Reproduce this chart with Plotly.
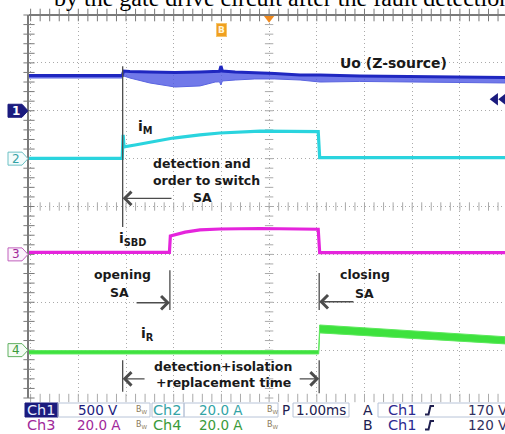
import numpy as np
import plotly.graph_objects as go

# ---- acquisition settings -------------------------------------------------
TIME_DIV = 1.0                                     # ms/div
CH_SCALE = {1: 500.0, 2: 20.0, 3: 20.0, 4: 20.0}   # V/div (Ch1), A/div (Ch2-4)
CH_GROUND = {1: 6.0, 2: 5.0, 3: 3.0, 4: 1.0}       # ground level, div from bottom
TRIG_A_LEVEL = 170.0                               # V on Ch1
TRIG_B_LEVEL = 120.0                               # V on Ch1

# ---- events (ms from the left edge of the screen) -------------------------
T_DETECT = 1.93     # fault detected, order to switch SA
T_OPEN = 2.92       # SA opening
T_CLOSE = 6.05      # SA closing

# ---- Ch1: Uo (Z-source) [V], upper / lower envelope of the noisy trace ----
uo_t = [-0.05, 1.92, 1.95, 2.08, 2.50, 3.03, 3.55, 3.87, 3.96, 3.99, 4.02,
        4.29, 4.70, 5.12, 5.65, 6.07, 6.90, 7.74, 8.79, 9.95]
uo_hi = [368, 368, 415, 410, 405, 400, 405, 415, 412, 467, 415,
         405, 400, 389, 373, 373, 363, 358, 353, 347]
uo_lo = [342, 342, 363, 342, 290, 248, 259, 300, 302, 269, 311,
         321, 332, 332, 321, 300, 306, 300, 295, 290]

# ---- Ch2: iM [A] ------------------------------------------------------------
im_t = [-0.05, 1.92, 1.94, 1.96, 2.19, 2.50, 2.99, 3.55, 3.97, 4.81, 6.03, 6.06, 9.95]
im_a = [0.1, 0.1, 9.9, 4.9, 5.7, 6.7, 8.6, 9.9, 10.7, 11.5, 11.3, 0.4, 0.4]

# ---- Ch3: iSBD [A] ----------------------------------------------------------
isbd_t = [-0.05, 2.91, 2.93, 3.24, 3.55, 3.97, 4.81, 6.03, 6.06, 9.95]
isbd_a = [0.8, 0.8, 7.7, 9.3, 10.2, 10.6, 10.8, 10.5, 0.7, 0.7]

# ---- Ch4: iR [A], upper / lower envelope ------------------------------------
ir_t = [-0.05, 6.04, 6.06, 7.74, 9.95]
ir_hi = [-0.2, -0.2, 10.5, 8.4, 5.6]
ir_lo = [-1.6, -1.6, 7.2, 5.1, 2.6]

# ---- colours / fonts ----------------------------------------------------------
NAVY = "#1b1b7e"
C1_FILL = "rgba(78,88,228,0.8)"
C1_LINE = "#1f27c0"
C2 = "#2ad4de"
C3 = "#e524dc"
C4 = "#3ee23e"
C2_TXT = "#33a3a6"
C3_TXT = "#a0289a"
C4_TXT = "#3a9a3a"
GRID = "#aaaaaa"
BORDER = "#7a7a7a"
ARROW = "#4c4c4c"
TEXT = "#1a1a1a"
SANS = "DejaVu Sans"

# figure geometry (plot area 29..505 x 15..398 px)
W, H = 505, 434
L, T, R, B = 29, 15, 0, 36
PW, PH = W - L - R, H - T - B
X_RANGE = [-0.034, 9.946]   # ms
Y_RANGE = [0, 8]            # div


def to_div(ch, vals):
    return [CH_GROUND[ch] + v / CH_SCALE[ch] for v in vals]


def px_x(px):
    return (px - L) / PW


def px_y(py):
    return (H - B - py) / PH


def band(t, hi, lo, fill, name, edge=None):
    return go.Scatter(x=list(t) + list(t)[::-1], y=list(hi) + list(lo)[::-1],
                      fill="toself", fillcolor=fill, mode="lines",
                      line=dict(color=edge or fill, width=1), name=name, hoverinfo="skip")


fig = go.Figure()

# graticule minor ticks on the centre cross and the borders
sub_x = np.arange(0, 10, 0.2)
sub_y = np.arange(0, 8.01, 0.2)
tick_style = dict(mode="markers", hoverinfo="skip", cliponaxis=False)
fig.add_trace(go.Scatter(x=sub_x, y=[4] * len(sub_x), marker=dict(symbol="line-ns", size=6,
              line=dict(color=GRID, width=1)), **tick_style))
fig.add_trace(go.Scatter(x=[5] * len(sub_y), y=sub_y, marker=dict(symbol="line-ew", size=6,
              line=dict(color=GRID, width=1)), **tick_style))
fig.add_trace(go.Scatter(x=sub_x, y=[8] * len(sub_x), marker=dict(symbol="line-ns", size=9,
              line=dict(color=BORDER, width=1)), **tick_style))
fig.add_trace(go.Scatter(x=sub_x, y=[0] * len(sub_x), marker=dict(symbol="line-ns", size=6,
              line=dict(color=GRID, width=1)), **tick_style))
fig.add_trace(go.Scatter(x=[X_RANGE[0]] * len(sub_y), y=sub_y, marker=dict(symbol="line-ew", size=8,
              line=dict(color=BORDER, width=1)), **tick_style))

# Ch1 Uo
fig.add_trace(band(uo_t, to_div(1, uo_hi), to_div(1, uo_lo), C1_FILL, "Uo", edge="#5a64e0"))
fig.add_trace(go.Scatter(x=uo_t, y=to_div(1, uo_hi), mode="lines",
                         line=dict(color=C1_LINE, width=3), hoverinfo="skip"))
# Ch2 iM
fig.add_trace(go.Scatter(x=im_t, y=to_div(2, im_a), mode="lines",
                         line=dict(color=C2, width=3.2), name="iM"))
# Ch3 iSBD
fig.add_trace(go.Scatter(x=isbd_t, y=to_div(3, isbd_a), mode="lines",
                         line=dict(color=C3, width=3.2), name="iSBD"))
# Ch4 iR
fig.add_trace(band(ir_t, to_div(4, ir_hi), to_div(4, ir_lo), C4, "iR", edge="#5ce85c"))

# trigger position (top) and trigger-level marker (right)
fig.add_trace(go.Scatter(x=[5.0], y=[7.93], mode="markers", cliponaxis=False,
                         marker=dict(symbol="triangle-down", size=9, color="#f08a1e"),
                         hoverinfo="skip"))
lvl = CH_GROUND[1] + TRIG_B_LEVEL / CH_SCALE[1]
fig.add_trace(go.Scatter(x=[9.74, 9.92], y=[lvl, lvl], mode="markers", cliponaxis=False,
                         marker=dict(symbol="triangle-left", size=11, color=NAVY),
                         hoverinfo="skip"))

shapes = []
ann = []

# top border
shapes.append(dict(type="line", xref="paper", yref="paper", x0=0, x1=1, y0=1, y1=1,
                   line=dict(color=BORDER, width=2)))

# event marker lines
def vline(t, y0, y1):
    shapes.append(dict(type="line", xref="x", yref="y", x0=t, x1=t, y0=y0, y1=y1,
                       line=dict(color=ARROW, width=1.3)))

vline(T_DETECT, 3.57, 6.93)
vline(T_OPEN, 1.84, 2.67)
vline(T_CLOSE, 1.84, 2.61)
vline(T_DETECT, 0.13, 0.79)
vline(T_CLOSE, 0.10, 0.79)


def arrow(head, tail, y):
    ann.append(dict(x=head, y=y, ax=tail, ay=y, xref="x", yref="y", axref="x", ayref="y",
                    text="", showarrow=True, arrowhead=4, arrowsize=2.0, arrowwidth=1.3,
                    arrowcolor=ARROW, standoff=0, startstandoff=0))


arrow(T_DETECT, 2.985, 4.17)
arrow(T_OPEN, 2.19, 1.99)
arrow(T_CLOSE, 6.80, 2.01)
arrow(T_DETECT, 2.42, 0.40)
arrow(T_CLOSE, 5.61, 0.40)


def label(text, x, y, size=12.5, color=TEXT, xanchor="center", xref="x", yref="y",
          family=SANS, **kw):
    ann.append(dict(text=text, x=x, y=y, xref=xref, yref=yref, xanchor=xanchor,
                    yanchor="middle", showarrow=False, borderpad=0,
                    font=dict(family=family, size=size, color=color), **kw))


label("<b>Uo (Z-source)</b>", 7.61, 7.00, size=14)
label("<b>i<sub>M</sub></b>", 2.23, 5.66, size=14, xanchor="left")
label("<b>detection and</b>", 2.545, 4.89, xanchor="left")
label("<b>order to switch</b>", 2.545, 4.55, xanchor="left")
label("<b>SA</b>", 3.61, 4.19)
label("<b>i<sub>SBD</sub></b>", 1.83, 3.33, size=14, xanchor="left")
label("<b>opening</b>", 1.93, 2.57)
label("<b>SA</b>", 1.87, 2.20)
label("<b>closing</b>", 7.02, 2.59)
label("<b>SA</b>", 7.00, 2.19)
label("<b>i<sub>R</sub></b>", 2.29, 1.34, size=14, xanchor="left")
label("<b>detection+isolation</b>", 4.04, 0.65)
label("<b>+replacement time</b>", 4.05, 0.33)

# caption line above the screen
label("by the gate drive circuit after the fault detection", px_x(53), px_y(12),
      size=24, color="#000000", xanchor="left", xref="paper", yref="paper",
      family="Liberation Serif")
ann[-1]["yanchor"] = "bottom"

# B marker
ann.append(dict(text="<b>B</b>", x=4.0, y=7.69, xref="x", yref="y", showarrow=False,
                font=dict(family=SANS, size=9, color="#fff4d6"), bgcolor="#f0a020",
                bordercolor="#f6c46a", borderwidth=1, borderpad=1))

# channel ground markers
marker_style = {
    1: dict(fill=NAVY, line=NAVY, txt="#ffffff"),
    2: dict(fill="#f4fcfc", line="#6cc0c4", txt=C2_TXT),
    3: dict(fill="#fcf4fc", line="#c060bc", txt=C3_TXT),
    4: dict(fill="#f4fcf4", line="#60b060", txt=C4_TXT),
}
for ch, st in marker_style.items():
    ym = CH_GROUND[ch] / 8
    dy = 6.5 / PH
    x0, x1, x2 = px_x(8), px_x(22), px_x(28)
    shapes.append(dict(type="path", xref="paper", yref="paper",
                       path=f"M{x0},{ym + dy} L{x1},{ym + dy} L{x2},{ym} L{x1},{ym - dy} L{x0},{ym - dy} Z",
                       fillcolor=st["fill"], line=dict(color=st["line"], width=1)))
    label(f"<b>{ch}</b>" if ch == 1 else str(ch), px_x(15.5), ym, size=12, color=st["txt"],
          xref="paper", yref="paper")

# ---- status bar ---------------------------------------------------------------
ROW1, ROW2 = 410, 425


def box(x0, x1, y0, y1, fill=None, line="#b8c4d8"):
    shapes.append(dict(type="rect", xref="paper", yref="paper",
                       x0=px_x(x0), x1=px_x(x1), y0=px_y(y1), y1=px_y(y0),
                       fillcolor=fill if fill else "rgba(0,0,0,0)",
                       line=dict(color=line, width=1)))


box(25, 58, 403, 417, fill=NAVY, line=NAVY)
box(58, 150, 403, 417)
box(152, 184, 403, 417)
box(184, 278, 403, 417)
box(293, 349, 403, 417)
box(378, 520, 403, 417)


def stat(text, cx, row, color, size=13.5, xanchor="center"):
    label(text, px_x(cx), px_y(row), size=size, color=color, xanchor=xanchor,
          xref="paper", yref="paper")


stat("Ch1", 41.5, ROW1, "#e6ecff", size=14.5)
stat(f"{CH_SCALE[1]:.0f} V", 98, ROW1, NAVY)
stat("Ch2", 167.5, ROW1, C2_TXT, size=14.5)
stat(f"{CH_SCALE[2]:.1f} A", 221, ROW1, C2_TXT)
stat("Ch3", 41.5, ROW2, C3_TXT, size=14.5)
stat(f"{CH_SCALE[3]:.1f} A", 99, ROW2, C3_TXT)
stat("Ch4", 167.5, ROW2, C4_TXT, size=14.5)
stat(f"{CH_SCALE[4]:.1f} A", 221, ROW2, C4_TXT)
for cx in (142, 273):
    for row in (ROW1, ROW2):
        stat("B<sub>W</sub>", cx, row, "#8a7a5a", size=8)
stat("P", 286, ROW1, "#202050")
stat(f"{TIME_DIV:.2f}ms", 321, ROW1, "#202050")
stat("A", 368, ROW1, "#202050", size=14)
stat("B", 368, ROW2, "#202050", size=14)
stat("Ch1", 402, ROW1, "#2a2a90", size=14.5)
stat("Ch1", 402, ROW2, "#2a2a90", size=14.5)
stat(f"{TRIG_A_LEVEL:.0f} V", 467, ROW1, "#303060", xanchor="left")
stat(f"{TRIG_B_LEVEL:.0f} V", 467, ROW2, "#303060", xanchor="left")
# rising-edge trigger symbols
for row in (ROW1, ROW2):
    p = [(425, row + 4.5), (428.5, row + 4.5), (430.5, row - 4), (434, row - 4)]
    path = "M" + " L".join(f"{px_x(a)},{px_y(b)}" for a, b in p)
    shapes.append(dict(type="path", xref="paper", yref="paper", path=path,
                       line=dict(color="#202050", width=2)))

axis_common = dict(showticklabels=False, ticks="", zeroline=False, showgrid=True,
                   gridcolor=GRID, griddash="1px,3px", gridwidth=1, fixedrange=True)

fig.update_layout(
    width=W, height=H,
    margin=dict(l=L, r=R, t=T, b=B),
    paper_bgcolor="white", plot_bgcolor="white",
    showlegend=False,
    xaxis=dict(range=X_RANGE, dtick=1, tick0=0, **axis_common),
    yaxis=dict(range=Y_RANGE, dtick=1, tick0=0, showline=True, linecolor=BORDER,
               linewidth=2, **axis_common),
    shapes=shapes,
    annotations=ann,
)

fig.write_html("out.html")
